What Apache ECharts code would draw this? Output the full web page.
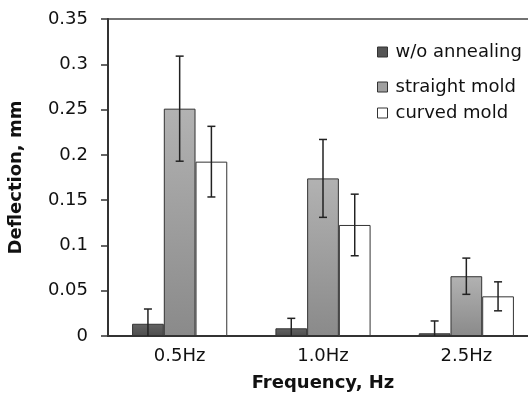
<!DOCTYPE html>
<html>
<head>
<meta charset="utf-8">
<script src="https://cdn.jsdelivr.net/npm/echarts@6/dist/echarts.min.js"></script>
<style>html,body{margin:0;padding:0;background:#fff}#c{width:528px;height:396px}</style>
</head>
<body>
<div id="c"></div>
<script>
const categories = ['0.5Hz', '1.0Hz', '2.5Hz'];
const seriesNames = ['w/o annealing', 'straight mold', 'curved mold'];
const woAnnealing = [0.0135, 0.0085, 0.003];
const woAnnealingErr = [0.0163, 0.011, 0.0136];
const straightMold = [0.251, 0.174, 0.066];
const straightMoldErr = [0.058, 0.043, 0.020];
const curvedMold = [0.1925, 0.1226, 0.0438];
const curvedMoldErr = [0.039, 0.034, 0.016];
const yTicks = { min: 0, max: 0.35, interval: 0.05 };

const FONT = 'DejaVu Sans';
const values = [woAnnealing, straightMold, curvedMold];
const errs = [woAnnealingErr, straightMoldErr, curvedMoldErr];
const catGap = 0.336;
const colors = [
  new echarts.graphic.LinearGradient(0, 0, 0, 1, [{offset: 0, color: '#636363'}, {offset: 1, color: '#4e4e4e'}]),
  new echarts.graphic.LinearGradient(0, 0, 0, 1, [{offset: 0, color: '#b2b2b2'}, {offset: 1, color: '#8a8a8a'}]),
  '#ffffff'
];
const legendColors = ['#555555', '#a0a0a0', '#ffffff'];
const legendTops = [43, 78, 104];

const barSeries = seriesNames.map((n, i) => ({
  name: n,
  type: 'bar',
  data: values[i],
  barGap: '0%',
  barCategoryGap: (catGap * 100) + '%',
  itemStyle: { color: colors[i], borderColor: '#333', borderWidth: 1 },
  emphasis: { disabled: true }
}));

const errSeries = seriesNames.map((n, i) => ({
  type: 'custom',
  name: n + ' err',
  clip: true,
  z: 10,
  data: categories.map((c, k) => [k, values[i][k] - errs[i][k], values[i][k] + errs[i][k]]),
  encode: { x: 0, y: [1, 2] },
  renderItem: function (params, api) {
    const k = api.value(0);
    const lo = api.coord([k, api.value(1)]);
    const hi = api.coord([k, api.value(2)]);
    const catW = api.size([1, 0])[0];
    const bw = catW * (1 - catGap) / 3;
    const x = lo[0] + (i - 1) * bw;
    const cap = 4;
    const st = { stroke: '#222', lineWidth: 1.5 };
    return {
      type: 'group',
      children: [
        { type: 'line', shape: { x1: x, y1: lo[1], x2: x, y2: hi[1] }, style: st },
        { type: 'line', shape: { x1: x - cap, y1: hi[1], x2: x + cap, y2: hi[1] }, style: st },
        { type: 'line', shape: { x1: x - cap, y1: lo[1], x2: x + cap, y2: lo[1] }, style: st }
      ]
    };
  }
}));

const legends = seriesNames.map((n, i) => ({
  orient: 'vertical',
  left: 377,
  top: legendTops[i],
  padding: 0,
  itemWidth: 10,
  itemHeight: 10,
  icon: 'rect',
  selectedMode: false,
  data: [{ name: n, itemStyle: { color: legendColors[i], borderColor: '#333', borderWidth: 1 } }],
  textStyle: { fontFamily: FONT, fontSize: 18, color: '#111', padding: [0, 0, 0, 3] }
}));

const chart = echarts.init(document.getElementById('c'));
chart.setOption({
  animation: false,
  textStyle: { fontFamily: FONT },
  grid: { left: 108, top: 19, width: 430, height: 317, outerBoundsMode: 'none', containLabel: false, show: true, borderColor: '#444', borderWidth: 1.5, backgroundColor: 'transparent' },
  legend: legends,
  xAxis: {
    type: 'category',
    data: categories,
    axisLine: { lineStyle: { color: '#333', width: 2 } },
    axisTick: { show: false },
    axisLabel: { fontFamily: FONT, fontSize: 18, color: '#111', margin: 11 },
    name: 'Frequency, Hz',
    nameLocation: 'middle',
    nameGap: 38,
    nameTextStyle: { fontFamily: FONT, fontSize: 18, fontWeight: 'bold', color: '#111' }
  },
  yAxis: {
    type: 'value',
    min: yTicks.min,
    max: yTicks.max,
    interval: yTicks.interval,
    splitLine: { show: false },
    axisLine: { show: true, lineStyle: { color: '#333', width: 2 } },
    axisTick: { show: true, length: 7, lineStyle: { color: '#333', width: 1.5 } },
    axisLabel: { fontFamily: FONT, fontSize: 18, color: '#111', margin: 20 },
    name: 'Deflection, mm',
    nameLocation: 'middle',
    nameGap: 83,
    nameTextStyle: { fontFamily: FONT, fontSize: 18, fontWeight: 'bold', color: '#111' }
  },
  series: barSeries.concat(errSeries)
});
</script>
</body>
</html>
